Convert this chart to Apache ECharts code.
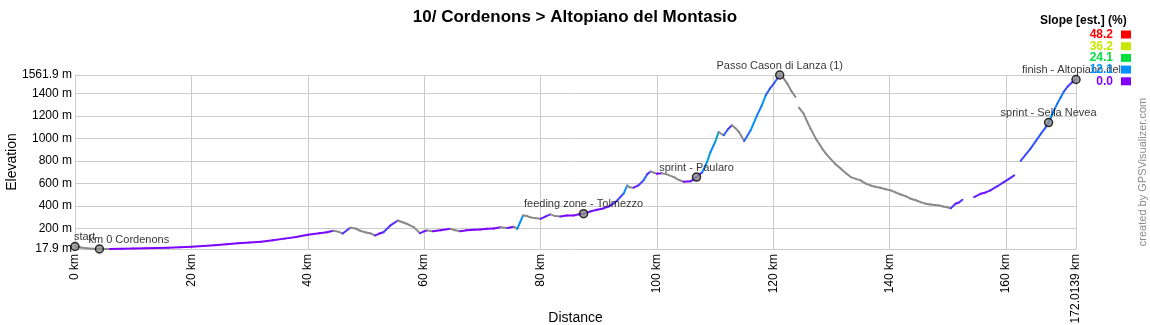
<!DOCTYPE html>
<html>
<head>
<meta charset="utf-8">
<title>10/ Cordenons &gt; Altopiano del Montasio</title>
<script src="https://cdn.jsdelivr.net/npm/echarts@6/dist/echarts.min.js"></script>
<style>
  html, body { margin: 0; padding: 0; background: #fff; }
  #chart { width: 1150px; height: 325px; }
</style>
</head>
<body>
<div id="chart"></div>
<script>
// Elevation profile, stage 10 (km, metres). null marks a break in the track.
const distKm = [
  0, 1, 2, 3, 4.2, 6, 8, 10, 12, 14, 16, 18, 20, 22, 24, 26, 28, 30, 32, 34, 36, 38, 40, 42,
  43.3, 44.4, 45.2, 46, 47.3, 48.2, 49, 50, 50.7, 51.6, 52.3, 53, 54.2, 55.5, 56.3, 57, 58.2, 59.3,
  60, 60.5, 61.5, 62.8, 64.5, 65.3, 66.2, 67.3, 68.5, 69.6, 70.8, 72, 73.1, 74.3, 75.4, 76, 76.5,
  77, 77.7, 78.2, 79, 80, 80.8, 81.7, 82.5, 83.4, 84.5, 85.7, 86.5, 87.4, 88.5, 89.7, 90.8, 91.7,
  92.6, 93.2, 93.7, 94.3, 94.9, 95.3, 96, 96.8, 97.7, 98.3, 98.9, 99.5, 100, 100.8, 101.7, 102.9,
  103.8, 104.6, 105.8, 106.8, 107.8, 108.6, 109.2, 110, 110.6, 111.5, 112.2, 112.9, 113.5, 114.1,
  115, 116.1, 117.2, 118, 118.7, 119.4, 120.1, 121.1, 121.8, 122.4, 123.1, 123.8, 124.1,
  124.4, 125.2, 125.8, 126.4, 127.3, 128.4, 129.1, 129.8, 130.7, 131.6, 132.5, 133.3, 134.2, 135,
  135.8, 136.7, 137.5, 138.4, 139.3, 140.2, 141, 141.9, 142.8, 143.6, 144.5, 145.3, 146.2, 147,
  147.8, 148.5, 149.2, 149.9, 150.5, 151.3, 151.9, 152.5, 153.5,
  154.5, 155.6, 156.5, 157.3, 158.5, 159.6, 160.5, 161.4, 162,
  162.5, 163.3, 164.2, 165.1, 166, 166.7, 167.3, 168, 168.8, 169.4, 169.9, 170.6, 171.3, 172.0139
];
const elevM = [
  40, 32, 25, 20, 18, 17.9, 20, 22, 24, 26, 29, 33, 37, 44, 52, 60, 68, 75, 82, 95, 110, 125, 145, 158,
  167, 180, 172, 155, 206, 200, 180, 165, 158, 138, 155, 167, 227, 271, 255, 242, 212, 158,
  175, 182, 176, 185, 197, 185, 176, 185, 188, 192, 197, 200, 210, 205, 216, 197, 256,
  316, 310, 300, 292, 286, 305, 325, 310, 307, 315, 316, 325, 331, 350, 366, 378, 395,
  422, 450, 478, 511, 582, 565, 562, 582, 627, 680, 705, 695, 686, 690, 680, 656,
  630, 615, 618, 656, 700, 789, 878, 967, 1056, 1027, 1080, 1116, 1090, 1056,
  976, 1071, 1204, 1290, 1382, 1440, 1486, 1561.9, 1530, 1486, 1420, 1368, null,
  1273, 1219, 1150, 1086, 997, 909, 860, 820, 770, 731, 690, 656, 640, 627,
  600, 582, 570, 562, 548, 538, 520, 502, 485, 464, 450, 434, 420, 413,
  408, 404, 395, 389, 380, 420, 430, 455, null,
  478, 508, 520, 538, 575, 612, 640, 671, null,
  800, 850, 909, 975, 1042, 1090, 1140, 1220, 1308, 1365, 1413, 1460, 1495, 1522
];

// Named waypoints along the route
const waypointNames = ['start', 'km 0 Cordenons', 'feeding zone - Tolmezzo', 'sprint - Paularo',
  'Passo Cason di Lanza (1)', 'sprint - Sella Nevea', 'finish - Altopiano del...'];
const waypointKm = [0, 4.2, 87.4, 106.8, 121.1, 167.3, 172.0139];
const waypointElev = [40, 18, 331, 656, 1561.9, 1140, 1522];

// Slope scale (%) and its colours
const slopeLegendValues = [48.2, 36.2, 24.1, 12.1, 0.0];
const slopeLegendColors = ['#ff0000', '#c8e600', '#00e040', '#0090ff', '#8000ff'];

// Axis ticks
const xTickValues = [0, 20, 40, 60, 80, 100, 120, 140, 160, 172.0139];
const yTickValues = [17.9, 200, 400, 600, 800, 1000, 1200, 1400, 1561.9];

const DESCENT_COLOR = '#8a8a8a';
const FONT = '"Liberation Sans", Arial, sans-serif';

function hexToRgb(h) {
  return [parseInt(h.slice(1, 3), 16), parseInt(h.slice(3, 5), 16), parseInt(h.slice(5, 7), 16)];
}
const slopeStops = slopeLegendValues.map((v, i) => ({ v, c: hexToRgb(slopeLegendColors[i]) }))
  .sort((a, b) => a.v - b.v);

function slopeColor(s) {
  if (s < 0) return DESCENT_COLOR;
  if (s >= slopeStops[slopeStops.length - 1].v) return slopeLegendColors[0];
  for (let i = 0; i < slopeStops.length - 1; i++) {
    const a = slopeStops[i], b = slopeStops[i + 1];
    if (s <= b.v) {
      const t = (s - a.v) / (b.v - a.v);
      const c = a.c.map((x, k) => Math.round(x + (b.c[k] - x) * t));
      return 'rgb(' + c.join(',') + ')';
    }
  }
  return slopeLegendColors[0];
}

// Segments between consecutive track points, each carrying its slope in %
const segments = [];
for (let i = 0; i < distKm.length - 1; i++) {
  const e0 = elevM[i], e1 = elevM[i + 1];
  if (e0 == null || e1 == null) continue;
  const slope = (e1 - e0) / ((distKm[i + 1] - distKm[i]) * 1000) * 100;
  segments.push([distKm[i], e0, distKm[i + 1], e1, slope]);
}

// Label placement for the waypoints near the left edge
const labelTweaks = {
  'start': { align: 'left', offset: [-1, 0] },
  'km 0 Cordenons': { align: 'left', offset: [-11, 0] }
};
const waypointData = waypointNames.map((n, i) => {
  const item = { name: n, value: [waypointKm[i], waypointElev[i]] };
  if (labelTweaks[n]) item.label = labelTweaks[n];
  return item;
});

// Slope legend graphics
const legendGraphics = [{
  type: 'text', left: 1040, top: 15,
  style: { text: 'Slope [est.] (%)', font: 'bold 12px ' + FONT, fill: '#000' }
}];
slopeLegendValues.forEach((v, i) => {
  const cy = 34.5 + i * 11.7;
  legendGraphics.push({
    type: 'text', x: 1113, y: cy, z: 10,
    style: { text: v.toFixed(1), font: 'bold 12px ' + FONT, fill: slopeLegendColors[i],
      align: 'right', verticalAlign: 'middle' }
  });
  legendGraphics.push({
    type: 'rect', shape: { x: 1121, y: cy - 4, width: 10, height: 8 }, z: 10,
    style: { fill: slopeLegendColors[i] }
  });
});
legendGraphics.push({
  type: 'text', x: 1143, y: 172, rotation: Math.PI / 2,
  style: { text: 'created by GPSVisualizer.com', font: '11px ' + FONT, fill: '#8c8c8c',
    align: 'center', verticalAlign: 'middle' }
});

const chart = echarts.init(document.getElementById('chart'), null, { renderer: 'canvas' });
chart.setOption({
  animation: false,
  backgroundColor: '#fff',
  textStyle: { fontFamily: FONT },
  title: {
    text: '10/ Cordenons > Altopiano del Montasio',
    left: 'center', top: 4,
    textStyle: { fontSize: 17, fontWeight: 'bold', color: '#000', fontFamily: FONT }
  },
  grid: { left: 75, top: 75, width: 1001, height: 174, containLabel: false, outerBoundsMode: 'none' },
  xAxis: {
    type: 'value', min: 0, max: 172.0139,
    name: 'Distance', nameLocation: 'middle', nameGap: 62, nameMoveOverlap: false,
    nameTextStyle: { fontSize: 14, color: '#000', fontFamily: FONT },
    axisLine: { show: true, lineStyle: { color: '#cccccc', width: 1 } },
    axisTick: { show: false, customValues: xTickValues },
    axisLabel: {
      customValues: xTickValues, rotate: 90, margin: 5, fontSize: 12, color: '#000',
      fontFamily: FONT, showMinLabel: true, showMaxLabel: true,
      formatter: v => v + ' km'
    },
    splitLine: { show: true, lineStyle: { color: '#cccccc', width: 1 } }
  },
  yAxis: {
    type: 'value', min: 17.9, max: 1561.9,
    name: 'Elevation', nameLocation: 'middle', nameGap: 56, nameRotate: 90, nameMoveOverlap: false,
    nameTextStyle: { fontSize: 14, color: '#000', fontFamily: FONT },
    axisLine: { show: true, lineStyle: { color: '#cccccc', width: 1 } },
    axisTick: { show: false, customValues: yTickValues },
    axisLabel: {
      customValues: yTickValues, margin: 3, fontSize: 12, color: '#000',
      fontFamily: FONT, showMinLabel: true, showMaxLabel: true,
      formatter: v => v + ' m'
    },
    splitLine: { show: true, lineStyle: { color: '#cccccc', width: 1 } }
  },
  graphic: legendGraphics,
  series: [
    {
      type: 'custom',
      name: 'profile',
      coordinateSystem: 'cartesian2d',
      encode: { x: [0, 2], y: [1, 3] },
      data: segments,
      silent: true,
      renderItem: function (params, api) {
        const p0 = api.coord([api.value(0), api.value(1)]);
        const p1 = api.coord([api.value(2), api.value(3)]);
        return {
          type: 'line',
          shape: { x1: p0[0], y1: p0[1], x2: p1[0], y2: p1[1] },
          style: { stroke: slopeColor(api.value(4)), lineWidth: 2, lineCap: 'round' }
        };
      }
    },
    {
      type: 'scatter',
      name: 'waypoints',
      data: waypointData,
      symbol: 'circle',
      symbolSize: 8,
      z: 5,
      itemStyle: { color: '#8c8c8c', borderColor: '#000', borderWidth: 1.5 },
      label: {
        show: true, position: 'top', distance: -1, fontSize: 11, color: '#000',
        fontFamily: FONT, formatter: p => p.name
      }
    }
  ]
});
</script>
</body>
</html>
